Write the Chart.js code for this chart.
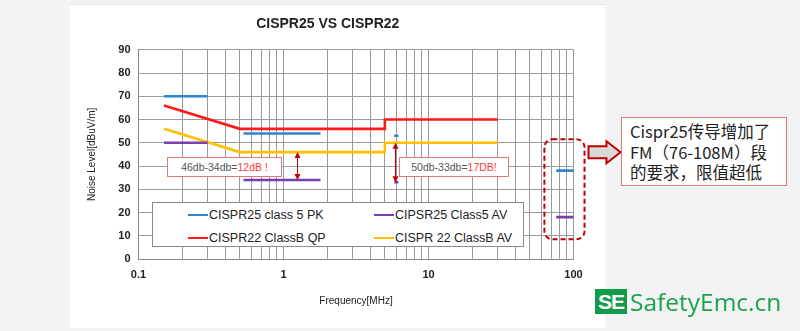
<!DOCTYPE html>
<html>
<head>
<meta charset="utf-8">
<script src="https://cdn.jsdelivr.net/npm/chart.js@4"></script>
<style>
  body { margin: 0; width: 800px; height: 331px; overflow: hidden; background: #f3f3f5; font-family: "Liberation Sans", Arial, sans-serif; }
  #panel { position: absolute; left: 70px; top: 4px; width: 535px; height: 323px; background: #fff; border-top: 1px solid #e4e4e6; }
  #wrap { position: absolute; left: 0; top: 0; width: 800px; height: 331px; }
  #legend { position: absolute; left: 152px; top: 202px; width: 370px; height: 43px; background: #fff; border: 1px solid #8c8c8c; }
  .item { position: absolute; font-size: 12.5px; color: #222; white-space: nowrap; line-height: 14px; }
  .item span.sw { display: inline-block; width: 20px; height: 2px; vertical-align: middle; margin-right: 1px; position: relative; top: -1px; }
  .note { position: absolute; height: 18px; background: #fff; border: 1px solid #e07a7a; font-size: 10.5px; color: #555; line-height: 18px; text-align: center; }
  .note b { font-weight: normal; color: #ff3b3b; }
  #callout { position: absolute; left: 621px; top: 117px; width: 166px; height: 69px; background: #fff; border: 1px solid #e07a7a;
    font-family: "Noto Sans CJK SC", sans-serif; font-size: 16.5px; color: #222; line-height: 20.5px; padding: 3px 0 0 8px; box-sizing: border-box; }
  #logo { position: absolute; left: 595px; top: 288px; height: 26px; }
  #logo .se { position: absolute; left: 0; top: 1px; width: 32px; height: 25px; background: #0f9b48; color: #fff; font: bold 21px "Liberation Sans", Arial, sans-serif; line-height: 25px; text-align: center; letter-spacing: -1px; }
  #logo .name { position: absolute; left: 35px; top: -3px; color: #1aa34a; font: 24.5px "Open Sans", sans-serif; white-space: nowrap; }
</style>
</head>
<body>
<div id="panel"></div>
<div id="wrap"><canvas id="chart" width="800" height="331"></canvas></div>
<div id="legend"></div>
<div class="note" style="left:167px; top:157px; width:113px;">46db-34db=<b>12dB !</b></div>
<div class="note" style="left:399px; top:157px; width:108px;">50db-33db=<b>17DB!</b></div>
<div id="callout">Cispr25传导增加了<br>FM（76-108M）段<br>的要求，限值超低</div>
<div id="logo"><div class="se">SE</div><div class="name">SafetyEmc.cn</div></div>

<script>
// CISPR25 class 5 limits: [start MHz, end MHz, level dBuV/m]
const pkSegments = [[0.15, 0.3, 70], [0.53, 1.8, 54], [5.8, 6.2, 53], [76, 108, 38]];
const avSegments = [[0.15, 0.3, 50], [0.53, 1.8, 34], [5.8, 6.2, 33], [76, 108, 18]];

// CISPR22 class B
const b22Freq = [0.15, 0.5, 5, 5, 30];
const b22QpLevel = [66, 56, 56, 60, 60];
const b22AvLevel = [56, 46, 46, 50, 50];

const freqTicks = [0.1, 0.2, 0.3, 0.4, 0.5, 0.6, 0.7, 0.8, 0.9,
                   1, 2, 3, 4, 5, 6, 7, 8, 9,
                   10, 20, 30, 40, 50, 60, 70, 80, 90, 100];
const freqLabels = [0.1, 1, 10, 100];

// difference markers: [freq, upper, lower]
const gapMarks = [[1.24, 46, 34], [5.85, 50, 33]];

function segmentsToPoints(segs) {
    let pts = [];
    segs.forEach(s => {
        pts.push({x: s[0], y: s[2]});
        pts.push({x: s[1], y: s[2]});
        pts.push({x: s[1], y: null});
    });
    return pts;
}

function toPoints(xs, ys) {
    return xs.map((x, i) => ({x: x, y: ys[i]}));
}

function arrow(ctx, x, y1, y2) {
    ctx.save();
    ctx.strokeStyle = '#c00000';
    ctx.fillStyle = '#c00000';
    ctx.lineWidth = 1;
    ctx.beginPath();
    ctx.moveTo(x, y1 + 4);
    ctx.lineTo(x, y2 - 4);
    ctx.stroke();
    ctx.beginPath();
    ctx.moveTo(x, y1); ctx.lineTo(x - 3, y1 + 6); ctx.lineTo(x + 3, y1 + 6); ctx.closePath();
    ctx.moveTo(x, y2); ctx.lineTo(x - 3, y2 - 6); ctx.lineTo(x + 3, y2 - 6); ctx.closePath();
    ctx.fill();
    ctx.restore();
}

const extras = {
    id: 'extras',
    afterDatasetsDraw(chart) {
        let ctx = chart.ctx;
        let xs = chart.scales.x, ys = chart.scales.y;
        gapMarks.forEach(g => {
            arrow(ctx, Math.round(xs.getPixelForValue(g[0])) + 0.5, ys.getPixelForValue(g[1]), ys.getPixelForValue(g[2]));
        });

        // dashed box around the FM band
        let left = xs.getPixelForValue(63), right = chart.chartArea.right + 11;
        let top = ys.getPixelForValue(51.5), bottom = ys.getPixelForValue(8.5);
        ctx.save();
        ctx.strokeStyle = '#c00000';
        ctx.lineWidth = 2;
        ctx.setLineDash([5, 3]);
        ctx.beginPath();
        ctx.roundRect(left, top, right - left, bottom - top, 8);
        ctx.stroke();
        ctx.restore();

        // block arrow to the callout
        let ax = right + 4, ay = (top + 3) + 10;
        ctx.save();
        ctx.fillStyle = '#d9d9d9';
        ctx.strokeStyle = '#c00000';
        ctx.lineWidth = 2;
        ctx.beginPath();
        ctx.moveTo(ax, ay - 6);
        ctx.lineTo(ax + 18, ay - 6);
        ctx.lineTo(ax + 18, ay - 11);
        ctx.lineTo(ax + 32, ay);
        ctx.lineTo(ax + 18, ay + 11);
        ctx.lineTo(ax + 18, ay + 6);
        ctx.lineTo(ax, ay + 6);
        ctx.closePath();
        ctx.fill();
        ctx.stroke();
        ctx.restore();
    }
};

let ctx = document.getElementById('chart').getContext('2d');
let chart = new Chart(ctx, {
    type: 'line',
    data: {
        datasets: [
            { label: 'CISPR25 class 5 PK', data: segmentsToPoints(pkSegments), borderColor: '#2e86d2' },
            { label: 'CIPSR25 Class5 AV', data: segmentsToPoints(avSegments), borderColor: '#7a3eb0' },
            { label: 'CISPR22 ClassB QP', data: toPoints(b22Freq, b22QpLevel), borderColor: '#ff1a1a' },
            { label: 'CISPR 22 ClassB AV', data: toPoints(b22Freq, b22AvLevel), borderColor: '#ffc000' }
        ]
    },
    options: {
        responsive: false,
        animation: false,
        spanGaps: false,
        layout: { padding: { left: 82, right: 226.5, top: 0, bottom: 20 } },
        elements: {
            line: { borderWidth: 2.6, tension: 0, borderCapStyle: 'butt' },
            point: { radius: 0 }
        },
        scales: {
            x: {
                type: 'logarithmic',
                min: 0.1,
                max: 100,
                afterBuildTicks: s => { s.ticks = freqTicks.map(v => ({value: v})); },
                afterFit: s => { s.height = 52; },
                ticks: {
                    autoSkip: false,
                    maxRotation: 0,
                    padding: 9,
                    color: '#222',
                    font: { family: 'Liberation Sans', size: 11, weight: 'bold' },
                    callback: v => freqLabels.includes(v) ? String(v) : ''
                },
                grid: { color: '#9a9a9a', drawTicks: false },
                border: { color: '#8a8a8a' },
                title: { display: true, text: 'Frequency[MHz]', color: '#222', padding: { top: 0, bottom: 4 },
                         font: { family: 'Liberation Sans', size: 10 } }
            },
            y: {
                min: 0,
                max: 90,
                afterFit: s => { s.width = 56.5; },
                ticks: {
                    stepSize: 10,
                    padding: 8,
                    color: '#222',
                    font: { family: 'Liberation Sans', size: 11, weight: 'bold' }
                },
                grid: { color: '#9a9a9a', drawTicks: false },
                border: { color: '#8a8a8a' },
                title: { display: true, text: 'Noise Level[dBuV/m]', color: '#222', padding: { top: 4, bottom: 0 },
                         font: { family: 'Liberation Sans', size: 10 } }
            }
        },
        plugins: {
            legend: { display: false },
            tooltip: { enabled: false },
            title: {
                display: true,
                text: 'CISPR25 VS CISPR22',
                color: '#222',
                font: { family: 'Liberation Sans', size: 14, weight: 'bold' },
                padding: { top: 16, bottom: 17 }
            }
        }
    },
    plugins: [extras]
});

// legend inside the plot, two columns
let legendPos = [[35, 5], [221, 5], [35, 28], [221, 28]];
let legendBox = document.getElementById('legend');
chart.data.datasets.forEach((ds, i) => {
    let el = document.createElement('div');
    el.className = 'item';
    el.style.left = legendPos[i][0] + 'px';
    el.style.top = legendPos[i][1] + 'px';
    el.innerHTML = '<span class="sw" style="background:' + ds.borderColor + '"></span>' + ds.label;
    legendBox.appendChild(el);
});
</script>
</body>
</html>
